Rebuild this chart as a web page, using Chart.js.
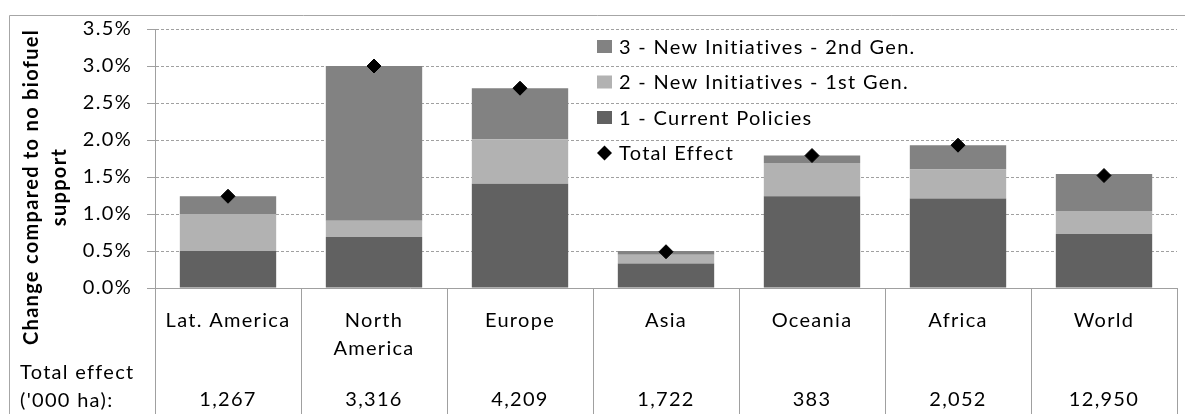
<!DOCTYPE html>
<html>
<head>
<meta charset="utf-8">
<script src="https://cdn.jsdelivr.net/npm/chart.js@4.4.1/dist/chart.umd.min.js"></script>
<style>
  html, body { margin: 0; padding: 0; background: #fff; }
  canvas { display: block; }
</style>
</head>
<body>
<canvas id="c" width="1185" height="414"></canvas>
<script>
// ---- data ----
const categories = ['Lat. America', ['North', 'America'], 'Europe', 'Asia', 'Oceania', 'Africa', 'World'];
const currentPolicies = [0.50, 0.69, 1.41, 0.33, 1.24, 1.21, 0.73];
const newFirstGen    = [0.50, 0.22, 0.60, 0.12, 0.45, 0.39, 0.31];
const newSecondGen   = [0.24, 2.09, 0.69, 0.05, 0.10, 0.33, 0.50];
const totalEffect    = [1.24, 3.00, 2.70, 0.49, 1.79, 1.93, 1.52];
const totalHa        = ['1,267', '3,316', '4,209', '1,722', '383', '2,052', '12,950'];
const yTicks         = [0, 0.5, 1.0, 1.5, 2.0, 2.5, 3.0, 3.5];
const yTitle         = ['Change compared to no biofuel', 'support'];
const tableRowLabel  = ['Total effect', "('000 ha):"];

const seriesNames  = ['1 - Current Policies', '2 - New Initiatives - 1st Gen.', '3 - New Initiatives - 2nd Gen.', 'Total Effect'];
const seriesColors = ['#616161', '#b2b2b2', '#828282', '#000000'];

// ---- style ----
const FONT = 'Lato, "Liberation Sans", sans-serif';
const FSIZE = 20;
const SPACING = '1.3px';
const GRID = '#a0a0a0';

const spacingPlugin = {
  id: 'spacing',
  beforeUpdate(chart) { chart.ctx.letterSpacing = SPACING; },
  beforeLayout(chart) { chart.ctx.letterSpacing = SPACING; },
  beforeDraw(chart) { chart.ctx.letterSpacing = SPACING; }
};

const decorPlugin = {
  id: 'decor',
  beforeDraw(chart) {
    const ctx = chart.ctx;
    ctx.save();
    ctx.fillStyle = '#ffffff';
    ctx.fillRect(0, 0, chart.width, chart.height);
    // outer chart border
    ctx.strokeStyle = '#a6a6a6';
    ctx.lineWidth = 1;
    ctx.beginPath();
    ctx.moveTo(9.5, chart.height + 2);
    ctx.lineTo(9.5, 15.5);
    ctx.lineTo(chart.width + 2, 15.5);
    ctx.stroke();
    ctx.restore();
  },
  afterDraw(chart) {
    const ctx = chart.ctx;
    const xs = chart.scales.x;
    const area = chart.chartArea;
    const n = categories.length;
    const step = (area.right - area.left) / n;
    ctx.save();
    ctx.letterSpacing = SPACING;
    // data table separators
    ctx.strokeStyle = GRID;
    ctx.lineWidth = 1;
    ctx.beginPath();
    for (let i = 0; i <= n; i++) {
      const x = Math.round(area.left + i * step) + 0.5;
      ctx.moveTo(x, area.bottom);
      ctx.lineTo(x, chart.height);
    }
    ctx.stroke();
    // table values
    ctx.fillStyle = '#000';
    ctx.font = `${FSIZE}px ${FONT}`;
    ctx.textAlign = 'center';
    ctx.textBaseline = 'middle';
    for (let i = 0; i < n; i++) {
      ctx.fillText(totalHa[i], xs.getPixelForValue(i), 400);
    }
    ctx.textAlign = 'left';
    ctx.fillText(tableRowLabel[0], 20, 373);
    ctx.fillText(tableRowLabel[1], 20, 401);
    // y-axis title
    ctx.font = `bold ${FSIZE}px ${FONT}`;
    ctx.textAlign = 'center';
    ctx.translate(0, 187);
    ctx.rotate(-Math.PI / 2);
    ctx.fillText(yTitle[0], 0, 32);
    ctx.fillText(yTitle[1], 0, 60);
    ctx.restore();

    // legend (inside plot)
    ctx.save();
    ctx.letterSpacing = SPACING;
    ctx.font = `${FSIZE}px ${FONT}`;
    ctx.textBaseline = 'middle';
    ctx.textAlign = 'left';
    const order = [2, 1, 0, 3];
    const rowsY = [46.5, 82, 117.5, 153];
    order.forEach((di, r) => {
      const ds = chart.data.datasets[di];
      const y = rowsY[r];
      if (di === 3) {
        ctx.fillStyle = '#000';
        ctx.beginPath();
        ctx.moveTo(604.5, y - 7.5);
        ctx.lineTo(612, y);
        ctx.lineTo(604.5, y + 7.5);
        ctx.lineTo(597, y);
        ctx.closePath();
        ctx.fill();
      } else {
        ctx.fillStyle = ds.backgroundColor;
        ctx.fillRect(597, y - 6.5, 15, 13);
      }
      ctx.fillStyle = '#000';
      ctx.fillText(ds.label, 619, y + 1);
    });
    ctx.restore();
  }
};

new Chart(document.getElementById('c'), {
  data: {
    labels: categories,
    datasets: [
      { type: 'bar', label: seriesNames[0], data: currentPolicies, backgroundColor: seriesColors[0], order: 2 },
      { type: 'bar', label: seriesNames[1], data: newFirstGen, backgroundColor: seriesColors[1], order: 2 },
      { type: 'bar', label: seriesNames[2], data: newSecondGen, backgroundColor: seriesColors[2], order: 2 },
      { type: 'line', label: seriesNames[3], data: totalEffect, stack: 'total', showLine: false,
        pointStyle: 'rectRot', pointRadius: 7, pointBorderWidth: 1,
        pointBackgroundColor: seriesColors[3], pointBorderColor: seriesColors[3], order: 0 }
    ]
  },
  options: {
    responsive: false,
    animation: false,
    devicePixelRatio: 1,
    layout: { padding: { top: 29, left: 0, right: 0, bottom: 0 } },
    datasets: { bar: { barPercentage: 0.66, categoryPercentage: 1.0, borderWidth: 0 } },
    plugins: { legend: { display: false }, tooltip: { enabled: false } },
    scales: {
      x: {
        stacked: true,
        grid: { display: false },
        border: { display: true, color: GRID, width: 1 },
        ticks: { color: '#000', font: { family: FONT, size: FSIZE, lineHeight: 1.42 }, padding: 10, maxRotation: 0, autoSkip: false },
        afterFit(scale) { scale.height = 126; }
      },
      y: {
        stacked: true,
        min: 0,
        max: 3.5,
        afterBuildTicks(scale) { scale.ticks = yTicks.map(v => ({ value: v })); },
        ticks: {
          color: '#000', font: { family: FONT, size: FSIZE }, padding: 15,
          callback: v => v.toFixed(1) + '%'
        },
        grid: { color: GRID, lineWidth: 1, drawTicks: true, tickLength: 8, tickColor: GRID, tickBorderDash: [] },
        border: { display: true, color: GRID, width: 1, dash: [3, 2] },
        afterFit(scale) { scale.width = 155; }
      }
    }
  },
  plugins: [spacingPlugin, decorPlugin]
});
</script>
</body>
</html>
